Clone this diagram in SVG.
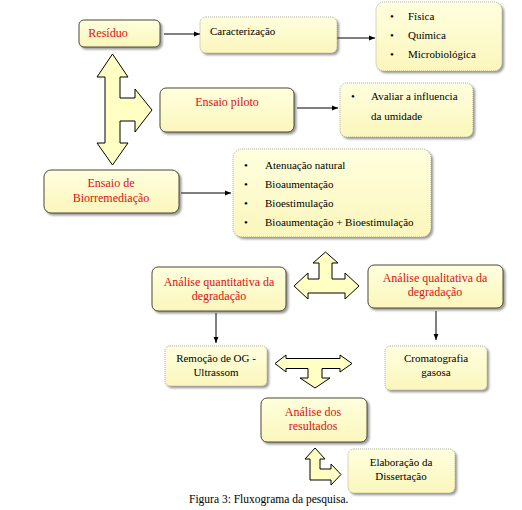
<svg xmlns="http://www.w3.org/2000/svg" width="522" height="510" viewBox="0 0 522 510">
<defs>
<linearGradient id="g" x1="0" y1="0" x2="0" y2="1">
<stop offset="0" stop-color="#ffffde"/>
<stop offset="1" stop-color="#fbf6bc"/>
</linearGradient>
<filter id="sh" x="-10%" y="-10%" width="130%" height="140%">
<feDropShadow dx="2" dy="2" stdDeviation="0.8" flood-color="#555" flood-opacity="0.6"/>
</filter>
<marker id="ah" viewBox="0 0 10 10" refX="10" refY="5" markerWidth="6" markerHeight="6" orient="auto" markerUnits="userSpaceOnUse">
<path d="M0,1 L10,5 L0,9 Z" fill="#000"/>
</marker>
<style>
.solid{fill:url(#g);stroke:#4a4a38;stroke-width:1;filter:url(#sh)}
.dot{fill:url(#g);stroke:#9a9a8a;stroke-width:0.8;stroke-dasharray:1 1;filter:url(#sh)}
.red{font-family:"Liberation Serif","Times New Roman",serif;font-size:12px;fill:#e01010;text-anchor:middle}
.blk{font-family:"Liberation Serif","Times New Roman",serif;font-size:11px;fill:#000}
.ctr{text-anchor:middle}
.conn{stroke:#000;stroke-width:1;fill:none;marker-end:url(#ah)}
.blk-arrow{fill:#ffffc4;stroke:#000;stroke-width:1;stroke-linejoin:miter}
</style>
</defs>
<rect width="522" height="510" fill="#fff"/>

<g id="connectors">
<line class="conn" x1="164" y1="34" x2="200" y2="34"/>
<line class="conn" x1="337" y1="38" x2="375" y2="38"/>
<line class="conn" x1="297" y1="108" x2="338" y2="108"/>
<line class="conn" x1="181" y1="193" x2="231" y2="193"/>
<line class="conn" x1="216" y1="313" x2="216" y2="343"/>
<line class="conn" x1="436" y1="311" x2="436" y2="340"/>
<path id="arrow-h1" class="blk-arrow" d="M112.5,54 L128,77 L120,77 L120,98 L135,98 L135,89 L152,110 L135,132 L135,121 L120,121 L120,143 L128,143 L112.5,165 L97,143 L105,143 L105,77 L97,77 Z"/>
<path id="arrow-t1" class="blk-arrow" d="M325.5,252 L338,263 L332,263 L332,279 L345,279 L345,273 L359,286 L345,299 L345,293 L308,293 L308,299 L294,286 L308,273 L308,279 L319,279 L319,263 L313,263 Z"/>
<path id="arrow-t2" class="blk-arrow" d="M275,363.5 L286,355 L286,358.5 L340,358.5 L340,355 L352,363.5 L340,372 L340,368.5 L322,368.5 L322,378 L330,378 L315,388 L300,378 L308,378 L308,368.5 L286,368.5 L286,372 Z"/>
<path id="arrow-b1" class="blk-arrow" d="M315,448 L325,459 L320,459 L320,469 L331,469 L331,464 L341,474.5 L331,485 L331,480 L310,480 L310,459 L305,459 Z"/>
</g>

<g id="residuo">
<rect class="solid" x="79" y="20" width="81" height="27" rx="5"/>
<text class="red" x="108" y="37">Resíduo</text>
</g>

<g id="caracterizacao">
<rect class="dot" x="200" y="17" width="137" height="36" rx="6"/>
<text class="blk" x="210" y="35">Caracterização</text>
</g>

<g id="tipos">
<rect class="dot" x="376" y="2" width="126" height="69" rx="8"/>
<text class="blk" x="390" y="20">•</text><text class="blk" x="408" y="20">Física</text>
<text class="blk" x="390" y="39">•</text><text class="blk" x="408" y="39">Química</text>
<text class="blk" x="390" y="58">•</text><text class="blk" x="408" y="58">Microbiológica</text>
</g>

<g id="ensaio-piloto">
<rect class="solid" x="160" y="88" width="134" height="44" rx="6"/>
<text class="red" x="227" y="106">Ensaio piloto</text>
</g>

<g id="avaliar">
<rect class="dot" x="340" y="83" width="133" height="54" rx="7"/>
<text class="blk" x="351" y="100">•</text>
<text class="blk" x="371" y="100">Avaliar a influencia</text>
<text class="blk" x="371" y="120">da umidade</text>
</g>

<g id="ensaio-biorremediacao">
<rect class="solid" x="44" y="170" width="135" height="43" rx="7"/>
<text class="red" x="111" y="187">Ensaio de</text>
<text class="red" x="111" y="202">Biorremediação</text>
</g>

<g id="tratamentos">
<rect class="dot" x="233" y="149" width="198" height="88" rx="9"/>
<text class="blk" x="244" y="169">•</text><text class="blk" x="265" y="169">Atenuação natural</text>
<text class="blk" x="244" y="188">•</text><text class="blk" x="265" y="188">Bioaumentação</text>
<text class="blk" x="244" y="207">•</text><text class="blk" x="265" y="207">Bioestimulação</text>
<text class="blk" x="244" y="226">•</text><text class="blk" x="265" y="226">Bioaumentação + Bioestimulação</text>
</g>

<g id="analise-quantitativa">
<rect class="solid" x="152" y="267" width="134" height="44" rx="6"/>
<text class="red" x="219" y="286">Análise quantitativa  da</text>
<text class="red" x="219" y="300">degradação</text>
</g>

<g id="analise-qualitativa">
<rect class="solid" x="368" y="265" width="135" height="43" rx="6"/>
<text class="red" x="435" y="282">Análise qualitativa  da</text>
<text class="red" x="435" y="296">degradação</text>
</g>

<g id="remocao">
<rect class="dot" x="165" y="346" width="102" height="40" rx="5"/>
<text class="blk ctr" x="216" y="362">Remoção de OG -</text>
<text class="blk ctr" x="216" y="376">Ultrassom</text>
</g>

<g id="cromatografia">
<rect class="dot" x="385" y="346" width="102" height="44" rx="5"/>
<text class="blk ctr" x="436" y="362">Cromatografia</text>
<text class="blk ctr" x="436" y="376">gasosa</text>
</g>

<g id="analise-resultados">
<rect class="solid" x="261" y="398" width="106" height="44" rx="6"/>
<text class="red" x="313" y="416">Análise dos</text>
<text class="red" x="313" y="430">resultados</text>
</g>

<g id="elaboracao">
<rect class="dot" x="348" y="449" width="107" height="44" rx="6"/>
<text class="blk ctr" x="401" y="466">Elaboração da</text>
<text class="blk ctr" x="401" y="480">Dissertação</text>
</g>

<text class="blk" x="189" y="503" style="font-size:11.5px">Figura 3: Fluxograma da pesquisa.</text>
</svg>
